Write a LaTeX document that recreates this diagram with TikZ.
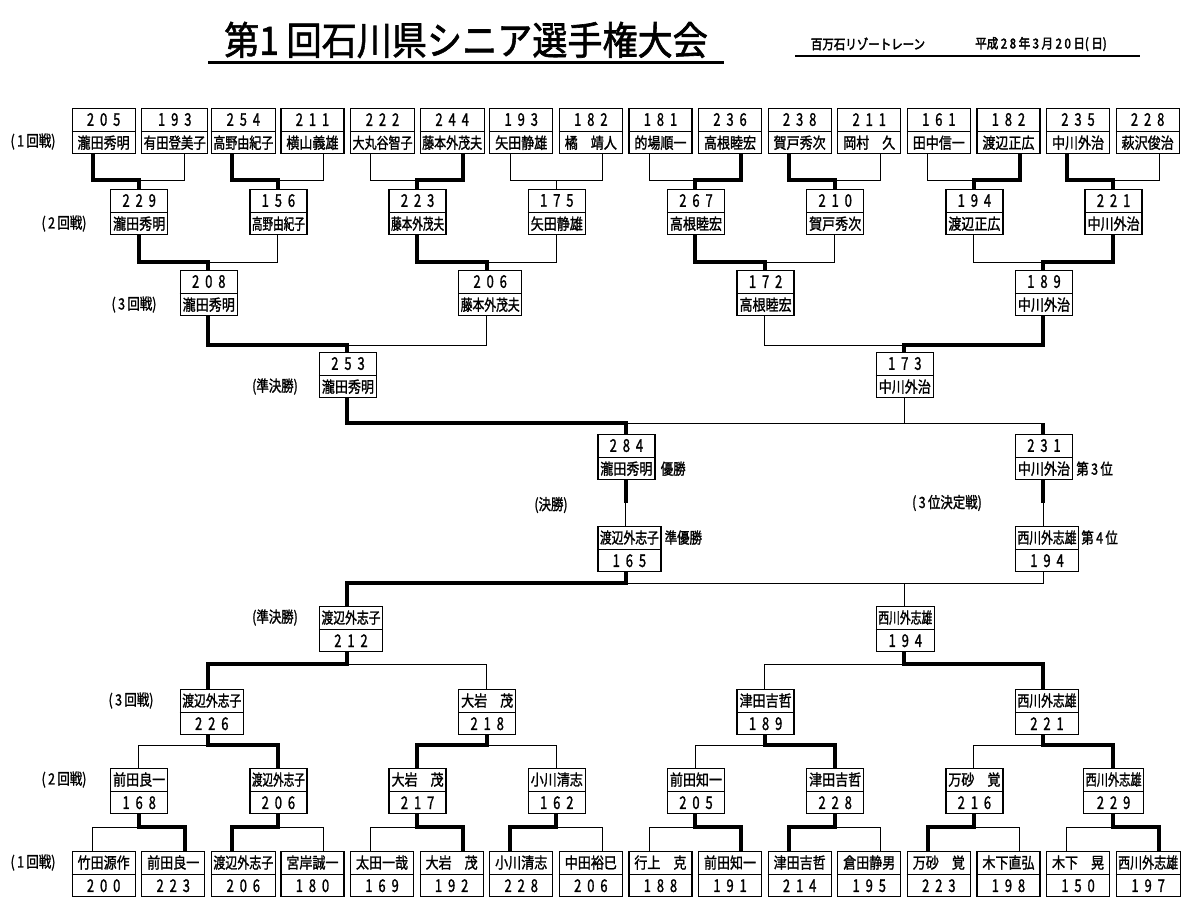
\documentclass[tikz,border=0pt]{standalone}
\usepackage{fontspec}
\setmainfont{Noto Sans CJK JP}
\newfontfamily\mdfont{Noto Sans CJK JP}[FakeBold=1.6]
\newfontfamily\hvfont{Noto Sans CJK JP}[FakeBold=2.8]
\usepackage{graphicx}
\usetikzlibrary{calc}

\newsavebox\nmbox
\newcommand\nmfont{\mdfont\fontsize{15.5}{17}\selectfont}
\newcommand\fitname[2]{\sbox\nmbox{\nmfont\scalebox{0.84}[1]{#2}}%
  \ifdim\wd\nmbox>\dimexpr#1pt-4pt\relax
    \resizebox{\dimexpr#1pt-4pt\relax}{\height}{\usebox\nmbox}%
  \else\usebox\nmbox\fi}
\def\spd#1{{\mdfont\fontsize{17.5}{20}\selectfont\scalebox{0.74}[1]{\spdA#1\relax}}}
\def\spdA#1#2{#1\ifx\relax#2\else\hspace{8pt}\expandafter\spdA\expandafter#2\fi}
\newcommand\lb[1]{\scalebox{0.8}[1]{#1}}
\newcommand\g{\hspace{3pt}}

\tikzset{
  bx/.style={draw, line width=1.3pt, inner sep=0pt, minimum height=45pt, anchor=north west},
  dv/.style={line width=1pt},
  thk/.style={line width=4pt},
  thn/.style={line width=1pt},
  lbl/.style={inner sep=0pt, font=\nmfont},
}

% number on top, name below
\newcommand\boxNT[7]{%
  \node[bx, minimum width=#5pt] (#1) at (#3,#4) {};
  \coordinate (#1-x) at (#2,#4);
  \draw[dv] (#1.west) -- (#1.east);
  \node[inner sep=0pt] (#1-a) at ($(#1.north)!0.5!(#1.center)$) {\spd{#6}};
  \node[inner sep=0pt] (#1-b) at ($(#1.south)!0.5!(#1.center)$) {\fitname{#5}{#7}};
}
% name on top, number below
\newcommand\boxTN[7]{%
  \node[bx, minimum width=#5pt] (#1) at (#3,#4) {};
  \coordinate (#1-x) at (#2,#4);
  \draw[dv] (#1.west) -- (#1.east);
  \node[inner sep=0pt] (#1-b) at ($(#1.north)!0.5!(#1.center)$) {\fitname{#5}{#6}};
  \node[inner sep=0pt] (#1-a) at ($(#1.south)!0.5!(#1.center)$) {\spd{#7}};
}
% winner, loser, parent below, bar
\newcommand\joinup[4]{%
  \draw[thn] (#2-x |- #2.south) -- (#2-x |- #4) -- (#3-x |- #4);
  \draw[thk] (#1-x |- #1.south) -- (#1-x |- #4) -- (#3-x |- #4) -- (#3-x |- #3.north);
}
\newcommand\joinnone[4]{%
  \draw[thn] (#2-x |- #2.south) -- (#2-x |- #4) -- (#1-x |- #4) -- (#1-x |- #1.south);
  \draw[thn] (#3-x |- #4) -- (#3-x |- #3.north);
}
% parent above, winner, loser, bar
\newcommand\joindn[4]{%
  \draw[thn] (#1-x |- #4) -- (#3-x |- #4) -- (#3-x |- #3.north);
  \draw[thk] (#1-x |- #1.south) -- (#1-x |- #4) -- (#2-x |- #4) -- (#2-x |- #2.north);
}

\begin{document}
\begin{tikzpicture}[x=1pt, y=-1pt]
\useasboundingbox[fill=white] (0,0) rectangle (1200,914);

% title
\node[inner sep=0pt, minimum width=515pt] (title) at (466,40)
  {\mdfont\fontsize{39}{41}\selectfont\scalebox{0.9}[1]{第1 回石川県シニア選手権大会}};
\coordinate (ul) at (0,62);
\draw[line width=3pt] (title.west |- ul) -- (title.east |- ul);
\node[inner sep=0pt] (venue) at (868,44)
  {\hvfont\fontsize{13.5}{14}\selectfont\scalebox{0.85}[1]{百万石リゾートレーン}};
\node[inner sep=0pt] (date) at (1041,44)
  {\hvfont\fontsize{13.5}{14}\selectfont\scalebox{0.85}[1]{平成\g{}2\g{}8\g{}年\g{}3\g{}月\g{}2\g{}0\g{}日(\g{}日)}};
\draw[line width=1.8pt] (795,56) -- (1140,56);

% bar levels
\coordinate (B1) at (0,180);
\coordinate (B2) at (0,262);
\coordinate (B3) at (0,345);
\coordinate (B4) at (0,423);
\coordinate (BM) at (0,503);
\coordinate (B5) at (0,583);
\coordinate (B6) at (0,664);
\coordinate (B7) at (0,745);
\coordinate (B8) at (0,827);

% upper round 1
\boxNT{u1}{92.5}{71.5}{108}{63}{205}{瀧田秀明}
\boxNT{u2}{184.6}{141.1}{108}{66}{193}{有田登美子}
\boxNT{u3}{231.7}{210.7}{108}{64}{254}{高野由紀子}
\boxNT{u4}{323.8}{280.3}{108}{63}{211}{横山義雄}
\boxNT{u5}{370.9}{349.9}{108}{64}{222}{大丸谷智子}
\boxNT{u6}{463.0}{419.5}{108}{64}{244}{藤本外茂夫}
\boxNT{u7}{510.1}{489.1}{108}{63}{193}{矢田静雄}
\boxNT{u8}{602.2}{558.7}{108}{63}{182}{橘　靖人}
\boxNT{u9}{649.3}{628.3}{108}{63}{181}{的場順一}
\boxNT{u10}{741.4}{697.9}{108}{63}{236}{高根睦宏}
\boxNT{u11}{788.5}{767.5}{108}{63}{238}{賀戸秀次}
\boxNT{u12}{880.6}{837.1}{108}{63}{211}{岡村　久}
\boxNT{u13}{927.7}{906.7}{108}{63}{161}{田中信一}
\boxNT{u14}{1019.8}{976.3}{108}{63}{182}{渡辺正広}
\boxNT{u15}{1066.9}{1045.9}{108}{63}{235}{中川外治}
\boxNT{u16}{1159.0}{1115.5}{108}{63}{228}{萩沢俊治}

% upper round 2
\boxNT{v1}{138.55}{110.05}{189}{57}{229}{瀧田秀明}
\boxNT{v2}{277.75}{249.25}{189}{57}{156}{高野由紀子}
\boxNT{v3}{416.95}{388.45}{189}{57}{223}{藤本外茂夫}
\boxNT{v4}{556.15}{527.65}{189}{57}{175}{矢田静雄}
\boxNT{v5}{695.35}{666.85}{189}{57}{267}{高根睦宏}
\boxNT{v6}{834.55}{806.05}{189}{57}{210}{賀戸秀次}
\boxNT{v7}{973.75}{945.25}{189}{57}{194}{渡辺正広}
\boxNT{v8}{1112.95}{1084.45}{189}{57}{221}{中川外治}

% upper round 3
\boxNT{w1}{208.15}{179.65}{270}{57}{208}{瀧田秀明}
\boxNT{w2}{486.55}{458.05}{270}{63}{206}{藤本外茂夫}
\boxNT{w3}{764.95}{736.45}{270}{57}{172}{高根睦宏}
\boxNT{w4}{1043.35}{1014.85}{270}{57}{189}{中川外治}

% upper semifinal
\boxNT{s1}{347.35}{318.85}{352}{57}{253}{瀧田秀明}
\boxNT{s2}{904.15}{875.65}{352}{57}{173}{中川外治}

% final and third place
\boxNT{F}{625.75}{597.25}{434}{57}{284}{瀧田秀明}
\boxNT{T3}{1043.35}{1014.85}{434}{57}{231}{中川外治}
\boxTN{RU}{625.75}{597.25}{526}{63}{渡辺外志子}{165}
\boxTN{T4}{1043.35}{1014.85}{526}{63}{西川外志雄}{194}

% lower semifinal
\boxTN{p1}{347.35}{318.85}{606}{63}{渡辺外志子}{212}
\boxTN{p2}{904.15}{875.65}{606}{58}{西川外志雄}{194}

% lower round 3
\boxTN{q1}{208.15}{179.65}{689}{63}{渡辺外志子}{226}
\boxTN{q2}{486.55}{458.05}{689}{57}{大岩　茂}{218}
\boxTN{q3}{764.95}{736.45}{689}{57}{津田吉哲}{189}
\boxTN{q4}{1043.35}{1014.85}{689}{63}{西川外志雄}{221}

% lower round 2
\boxTN{r1}{138.55}{110.05}{768}{57}{前田良一}{168}
\boxTN{r2}{277.75}{249.25}{768}{57}{渡辺外志子}{206}
\boxTN{r3}{416.95}{388.45}{768}{57}{大岩　茂}{217}
\boxTN{r4}{556.15}{527.65}{768}{57}{小川清志}{162}
\boxTN{r5}{695.35}{666.85}{768}{57}{前田知一}{205}
\boxTN{r6}{834.55}{806.05}{768}{57}{津田吉哲}{228}
\boxTN{r7}{973.75}{945.25}{768}{57}{万砂　覚}{216}
\boxTN{r8}{1112.95}{1082.95}{768}{60}{西川外志雄}{229}

% lower round 1
\boxTN{l1}{92.5}{71.5}{851}{63}{竹田源作}{200}
\boxTN{l2}{184.6}{141.1}{851}{63}{前田良一}{223}
\boxTN{l3}{231.7}{210.7}{851}{64}{渡辺外志子}{206}
\boxTN{l4}{323.8}{280.3}{851}{63}{宮岸誠一}{180}
\boxTN{l5}{370.9}{349.9}{851}{63}{太田一哉}{169}
\boxTN{l6}{463.0}{419.5}{851}{63}{大岩　茂}{192}
\boxTN{l7}{510.1}{489.1}{851}{63}{小川清志}{228}
\boxTN{l8}{602.2}{558.7}{851}{63}{中田裕巳}{206}
\boxTN{l9}{649.3}{628.3}{851}{63}{行上　克}{188}
\boxTN{l10}{741.4}{697.9}{851}{63}{前田知一}{191}
\boxTN{l11}{788.5}{767.5}{851}{63}{津田吉哲}{214}
\boxTN{l12}{880.6}{837.1}{851}{63}{倉田静男}{195}
\boxTN{l13}{927.7}{906.7}{851}{63}{万砂　覚}{223}
\boxTN{l14}{1019.8}{976.3}{851}{63}{木下直弘}{198}
\boxTN{l15}{1066.9}{1045.9}{851}{63}{木下　晃}{150}
\boxTN{l16}{1159.0}{1115.5}{851}{64}{西川外志雄}{197}

% upper connectors
\joinup{u1}{u2}{v1}{B1}
\joinup{u3}{u4}{v2}{B1}
\joinup{u6}{u5}{v3}{B1}
\joinnone{u7}{u8}{v4}{B1}
\joinup{u10}{u9}{v5}{B1}
\joinup{u11}{u12}{v6}{B1}
\joinup{u14}{u13}{v7}{B1}
\joinup{u15}{u16}{v8}{B1}
\joinup{v1}{v2}{w1}{B2}
\joinup{v3}{v4}{w2}{B2}
\joinup{v5}{v6}{w3}{B2}
\joinup{v8}{v7}{w4}{B2}
\joinup{w1}{w2}{s1}{B3}
\joinup{w4}{w3}{s2}{B3}

% middle
\draw[thk] (s1-x |- s1.south) -- (s1-x |- B4) -- (F-x |- B4) -- (F-x |- F.north);
\draw[thn] (F-x |- B4) -- (T3-x |- B4);
\draw[thn] (s2-x |- s2.south) -- (s2-x |- B4);
\draw[thk] (T3-x |- B4) -- (T3-x |- T3.north);
\draw[thk] (F-x |- F.south) -- (F-x |- BM);
\draw[thn] (F-x |- BM) -- (RU-x |- RU.north);
\draw[thk] (T3-x |- T3.south) -- (T3-x |- BM);
\draw[thn] (T3-x |- BM) -- (T4-x |- T4.north);
\draw[thk] (RU-x |- RU.south) -- (RU-x |- B5) -- (p1-x |- B5) -- (p1-x |- p1.north);
\draw[thn] (RU-x |- B5) -- (T4-x |- B5) -- (T4-x |- T4.south);
\draw[thn] (p2-x |- B5) -- (p2-x |- p2.north);

% lower connectors
\joindn{p1}{q1}{q2}{B6}
\joindn{p2}{q4}{q3}{B6}
\joindn{q1}{r2}{r1}{B7}
\joindn{q2}{r3}{r4}{B7}
\joindn{q3}{r6}{r5}{B7}
\joindn{q4}{r8}{r7}{B7}
\joindn{r1}{l2}{l1}{B8}
\joindn{r2}{l3}{l4}{B8}
\joindn{r3}{l6}{l5}{B8}
\joindn{r4}{l7}{l8}{B8}
\joindn{r5}{l10}{l9}{B8}
\joindn{r6}{l11}{l12}{B8}
\joindn{r7}{l13}{l14}{B8}
\joindn{r8}{l16}{l15}{B8}

% round labels
\node[lbl] (k1u) at (33,141.5) {\lb{(\g{}1\g{}回戦)}};
\node[lbl] (k2u) at (64,223.5) {\lb{(\g{}2\g{}回戦)}};
\node[lbl] (k3u) at (134,304.5) {\lb{(\g{}3\g{}回戦)}};
\node[lbl] (k4u) at (275,386.5) {\lb{(準決勝)}};
\node[lbl] (k4l) at (275,617.5) {\lb{(準決勝)}};
\node[lbl] (k3l) at (131,700.5) {\lb{(\g{}3\g{}回戦)}};
\node[lbl] (k2l) at (64,779.5) {\lb{(\g{}2\g{}回戦)}};
\node[lbl] (k1l) at (33,862.5) {\lb{(\g{}1\g{}回戦)}};
\node[lbl] (kf) at (551,505) {\lb{(決勝)}};
\node[lbl] (k3p) at (947,503) {\lb{(\g{}3\g{}位決定戦)}};

% placings
\node[lbl, anchor=west, xshift=5pt] (pl1) at (F-b -| F.east) {\lb{優勝}};
\node[lbl, anchor=west, xshift=3pt] (pl2) at (RU-b -| RU.east) {\lb{準優勝}};
\node[lbl, anchor=west, xshift=3pt] (pl3) at (T3-b -| T3.east) {\lb{第\g{}3\g{}位}};
\node[lbl, anchor=west, xshift=2pt] (pl4) at (T4-b -| T4.east) {\lb{第\g{}4\g{}位}};
\end{tikzpicture}
\end{document}
